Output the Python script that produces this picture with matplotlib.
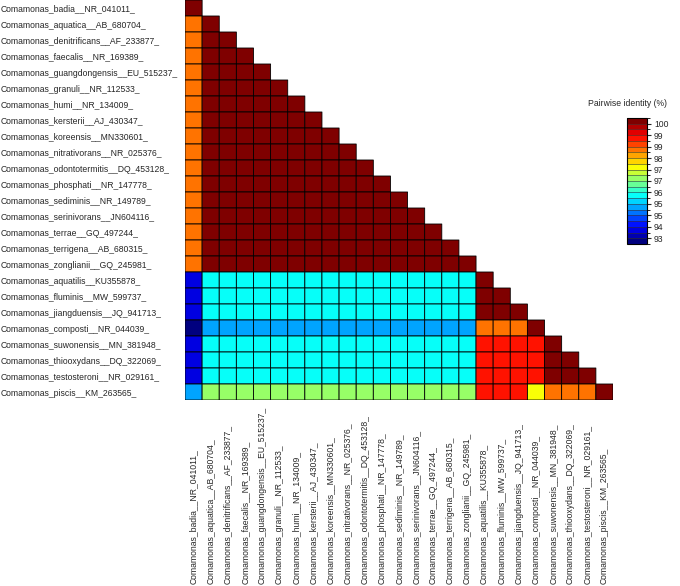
import numpy as np
import matplotlib
matplotlib.use("Agg")
import matplotlib.pyplot as plt
from matplotlib.colors import LinearSegmentedColormap, BoundaryNorm

plt.rcParams['font.family'] = ['Liberation Sans', 'DejaVu Sans']

# Taxa (rows top->bottom, columns left->right)
taxa = [
    "Comamonas_badia__NR_041011_",
    "Comamonas_aquatica__AB_680704_",
    "Comamonas_denitrificans__AF_233877_",
    "Comamonas_faecalis__NR_169389_",
    "Comamonas_guangdongensis__EU_515237_",
    "Comamonas_granuli__NR_112533_",
    "Comamonas_humi__NR_134009_",
    "Comamonas_kersterii__AJ_430347_",
    "Comamonas_koreensis__MN330601_",
    "Comamonas_nitrativorans__NR_025376_",
    "Comamonas_odontotermitis__DQ_453128_",
    "Comamonas_phosphati__NR_147778_",
    "Comamonas_sediminis__NR_149789_",
    "Comamonas_serinivorans__JN604116_",
    "Comamonas_terrae__GQ_497244_",
    "Comamonas_terrigena__AB_680315_",
    "Comamonas_zonglianii__GQ_245981_",
    "Comamonas_aquatilis__KU355878_",
    "Comamonas_fluminis__MW_599737_",
    "Comamonas_jiangduensis__JQ_941713_",
    "Comamonas_composti__NR_044039_",
    "Comamonas_suwonensis__MN_381948_",
    "Comamonas_thiooxydans__DQ_322069_",
    "Comamonas_testosteroni__NR_029161_",
    "Comamonas_piscis__KM_263565_",
]

# Pairwise identity (%), lower triangle, one list per row
row_badia = [100]
row_aquatica = [98.4, 100]
row_denitrificans = [98.4, 100, 100]
row_faecalis = [98.4, 100, 100, 100]
row_guangdongensis = [98.4, 100, 100, 100, 100]
row_granuli = [98.4, 100, 100, 100, 100, 100]
row_humi = [98.4, 100, 100, 100, 100, 100, 100]
row_kersterii = [98.4, 100, 100, 100, 100, 100, 100, 100]
row_koreensis = [98.4, 100, 100, 100, 100, 100, 100, 100, 100]
row_nitrativorans = [98.4, 100, 100, 100, 100, 100, 100, 100, 100, 100]
row_odontotermitis = [98.4, 100, 100, 100, 100, 100, 100, 100, 100, 100, 100]
row_phosphati = [98.4, 100, 100, 100, 100, 100, 100, 100, 100, 100, 100, 100]
row_sediminis = [98.4, 100, 100, 100, 100, 100, 100, 100, 100, 100, 100, 100, 100]
row_serinivorans = [98.4, 100, 100, 100, 100, 100, 100, 100, 100, 100, 100, 100, 100, 100]
row_terrae = [98.4, 100, 100, 100, 100, 100, 100, 100, 100, 100, 100, 100, 100, 100, 100]
row_terrigena = [98.4, 100, 100, 100, 100, 100, 100, 100, 100, 100, 100, 100, 100, 100, 100, 100]
row_zonglianii = [98.4, 100, 100, 100, 100, 100, 100, 100, 100, 100, 100, 100, 100, 100, 100, 100, 100]
row_aquatilis = [93.8, 95.8, 95.8, 95.8, 95.8, 95.8, 95.8, 95.8, 95.8, 95.8, 95.8, 95.8, 95.8, 95.8, 95.8, 95.8, 95.8,
                 100]
row_fluminis = [93.8, 95.8, 95.8, 95.8, 95.8, 95.8, 95.8, 95.8, 95.8, 95.8, 95.8, 95.8, 95.8, 95.8, 95.8, 95.8, 95.8,
                100, 100]
row_jiangduensis = [93.8, 95.8, 95.8, 95.8, 95.8, 95.8, 95.8, 95.8, 95.8, 95.8, 95.8, 95.8, 95.8, 95.8, 95.8, 95.8, 95.8,
                    100, 100, 100]
row_composti = [93.1, 95.1, 95.1, 95.1, 95.1, 95.1, 95.1, 95.1, 95.1, 95.1, 95.1, 95.1, 95.1, 95.1, 95.1, 95.1, 95.1,
                98.5, 98.5, 98.5, 100]
row_suwonensis = [93.8, 95.8, 95.8, 95.8, 95.8, 95.8, 95.8, 95.8, 95.8, 95.8, 95.8, 95.8, 95.8, 95.8, 95.8, 95.8, 95.8,
                  99.1, 99.1, 99.1, 99.1, 100]
row_thiooxydans = [93.8, 95.8, 95.8, 95.8, 95.8, 95.8, 95.8, 95.8, 95.8, 95.8, 95.8, 95.8, 95.8, 95.8, 95.8, 95.8, 95.8,
                   99.1, 99.1, 99.1, 99.1, 100, 100]
row_testosteroni = [93.8, 95.8, 95.8, 95.8, 95.8, 95.8, 95.8, 95.8, 95.8, 95.8, 95.8, 95.8, 95.8, 95.8, 95.8, 95.8, 95.8,
                    99.1, 99.1, 99.1, 99.1, 100, 100, 100]
row_piscis = [95.1, 96.8, 96.8, 96.8, 96.8, 96.8, 96.8, 96.8, 96.8, 96.8, 96.8, 96.8, 96.8, 96.8, 96.8, 96.8, 96.8,
              99.1, 99.1, 99.1, 97.4, 98.5, 98.5, 98.5, 100]

rows = [row_badia, row_aquatica, row_denitrificans, row_faecalis, row_guangdongensis,
        row_granuli, row_humi, row_kersterii, row_koreensis, row_nitrativorans,
        row_odontotermitis, row_phosphati, row_sediminis, row_serinivorans, row_terrae,
        row_terrigena, row_zonglianii, row_aquatilis, row_fluminis, row_jiangduensis,
        row_composti, row_suwonensis, row_thiooxydans, row_testosteroni, row_piscis]

# Colour scale (discrete bins)
scale_min = 92.93
scale_max = 100.30
n_bins = 22

n = len(taxa)
mat = np.full((n, n), np.nan)
for i, r in enumerate(rows):
    mat[i, :len(r)] = r
mat = np.ma.masked_invalid(mat)

palette = ["#00007F", "blue", "#007FFF", "cyan", "#7FFF7F", "yellow", "#FF7F00", "red", "#7F0000"]
cmap = LinearSegmentedColormap.from_list("jetcolors", palette, N=n_bins)
levels = np.linspace(scale_min, scale_max, n_bins + 1)
norm = BoundaryNorm(levels, n_bins)

fig = plt.figure(figsize=(6.8, 5.86), dpi=100)
ax = fig.add_axes([185 / 680, 1 - 400 / 586, 428 / 680, 400 / 586])
ax.pcolor(mat, cmap=cmap, norm=norm, edgecolors="black", linewidth=0.6)
ax.set_xlim(0, n)
ax.set_ylim(n, 0)
for s in ax.spines.values():
    s.set_visible(False)

txt_col = "#262626"
fs = 6.2
ax.set_yticks(np.arange(n) + 0.5)
ax.set_yticklabels(taxa, fontsize=fs, color=txt_col, ha="left")
ax.tick_params(axis="y", length=0, pad=132.5)
ax.set_xticks(np.arange(n) + 0.5)
ax.set_xticklabels(taxa, fontsize=fs, color=txt_col, rotation=90, va="bottom")
ax.tick_params(axis="x", length=0, pad=132.5)

# Colour bar
cax = fig.add_axes([627 / 680, 1 - 244 / 586, 20 / 680, 126 / 586])
sm = plt.cm.ScalarMappable(cmap=cmap, norm=norm)
cb = fig.colorbar(sm, cax=cax, drawedges=True)
cb.outline.set_linewidth(0.8)
cb.dividers.set_linewidth(0.4)
cb.dividers.set_color("#333333")
tick_vals = levels[1::2]
cb.set_ticks(tick_vals)
cb.set_ticklabels(["{:.0f}".format(v) for v in tick_vals])
cax.tick_params(labelsize=fs, length=3, width=0.8, colors=txt_col, pad=2)
fig.text(628 / 680, 1 - 103 / 586, "Pairwise identity (%)", fontsize=fs,
         color=txt_col, ha="center", va="center")

fig.savefig("out.png", dpi=100)
